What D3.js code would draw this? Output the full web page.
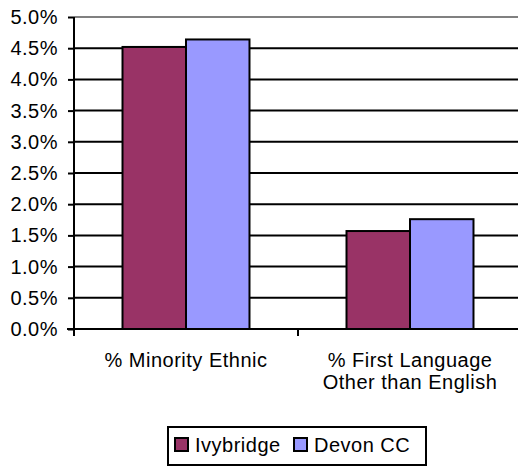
<!DOCTYPE html>
<html>
<head>
<meta charset="utf-8">
<script src="https://cdn.jsdelivr.net/npm/d3@7"></script>
<style>
  body { margin: 0; background: #fff; }
  svg text { font-family: "Liberation Sans", Arial, sans-serif; fill: #000; letter-spacing: 0.5px; }
</style>
</head>
<body>
<script>
// data
var categories = ["% Minority Ethnic", "% First Language\nOther than English"];
var seriesNames = ["Ivybridge", "Devon CC"];
var ivybridge = [0.0452, 0.0157];
var devon = [0.0464, 0.0176];
var yTicks = [0, 0.005, 0.01, 0.015, 0.02, 0.025, 0.03, 0.035, 0.04, 0.045, 0.05];
var colors = ["#993366", "#9999ff"];

var svgWidth = 518, svgHeight = 467;
var margin = { top: 17, left: 74 };
var width = 448, height = 312;
var fontSize = "20px";

var svg = d3.select("body").append("svg")
    .attr("width", svgWidth)
    .attr("height", svgHeight);

var chartGroup = svg.append("g")
    .attr("transform", `translate(${margin.left}, ${margin.top})`);

var xScale = d3.scaleBand().domain(categories).range([0, width]);
var xInner = d3.scaleBand().domain(seriesNames)
    .range([0, xScale.bandwidth()]).paddingInner(0).paddingOuter(0.764);
var yScale = d3.scaleLinear().domain([0, 0.05]).range([height, 0]);

// gridlines
chartGroup.selectAll(".grid")
    .data(yTicks.filter(d => d > 0))
    .enter().append("line")
    .attr("x1", 0).attr("x2", width)
    .attr("y1", d => yScale(d)).attr("y2", d => yScale(d))
    .attr("stroke", d => d === 0.05 ? "#808080" : "#000")
    .attr("stroke-width", 2);

// y axis
var leftAxis = d3.axisLeft(yScale).tickValues(yTicks)
    .tickFormat(d3.format(".1%")).tickSize(6).tickPadding(10);
var yAxisG = chartGroup.append("g").call(leftAxis);
yAxisG.select(".domain").remove();
yAxisG.selectAll(".tick line").attr("stroke", "#000").attr("stroke-width", 2);
yAxisG.selectAll(".tick text").attr("font-size", fontSize).attr("font-family", null);
chartGroup.append("line")
    .attr("x1", 0).attr("x2", 0).attr("y1", 0).attr("y2", height + 7)
    .attr("stroke", "#000").attr("stroke-width", 2);

// bars
var rows = categories.map((c, i) => ({ cat: c, vals: [ivybridge[i], devon[i]] }));
var groups = chartGroup.selectAll(".grp").data(rows).enter().append("g")
    .attr("transform", d => `translate(${xScale(d.cat)},0)`);
groups.selectAll("rect")
    .data(d => d.vals.map((v, j) => ({ name: seriesNames[j], v: v, j: j })))
    .enter().append("rect")
    .attr("x", d => xInner(d.name))
    .attr("y", d => yScale(d.v))
    .attr("width", xInner.bandwidth())
    .attr("height", d => height - yScale(d.v))
    .attr("fill", d => colors[d.j])
    .attr("stroke", "#000")
    .attr("stroke-width", 2);

// x axis
chartGroup.append("line")
    .attr("x1", -7).attr("x2", width).attr("y1", height).attr("y2", height)
    .attr("stroke", "#000").attr("stroke-width", 2);
chartGroup.selectAll(".xtick")
    .data(categories.slice(1))
    .enter().append("line")
    .attr("x1", d => xScale(d)).attr("x2", d => xScale(d))
    .attr("y1", height).attr("y2", height + 7)
    .attr("stroke", "#000").attr("stroke-width", 2);

// category labels
chartGroup.selectAll(".xlabel")
    .data(categories)
    .enter().append("text")
    .attr("text-anchor", "middle")
    .attr("font-size", fontSize)
    .attr("transform", d => `translate(${xScale(d) + xScale.bandwidth() / 2},${height + 38})`)
    .each(function (d) {
        var lines = d.split("\n");
        d3.select(this).selectAll("tspan").data(lines).enter().append("tspan")
            .attr("x", 0).attr("dy", (l, i) => i === 0 ? 0 : 22)
            .text(l => l);
    });

// legend
var legend = svg.append("g").attr("transform", "translate(168,427)");
legend.append("rect")
    .attr("x", 0).attr("y", 0).attr("width", 258).attr("height", 38)
    .attr("fill", "#fff").attr("stroke", "#000").attr("stroke-width", 2);
var legendX = [7, 126];
seriesNames.forEach(function (name, i) {
    legend.append("rect")
        .attr("x", legendX[i]).attr("y", 11).attr("width", 13).attr("height", 13)
        .attr("fill", colors[i]).attr("stroke", "#000").attr("stroke-width", 2);
    legend.append("text")
        .attr("x", legendX[i] + 20).attr("y", 25)
        .attr("font-size", fontSize)
        .text(name);
});
</script>
</body>
</html>
